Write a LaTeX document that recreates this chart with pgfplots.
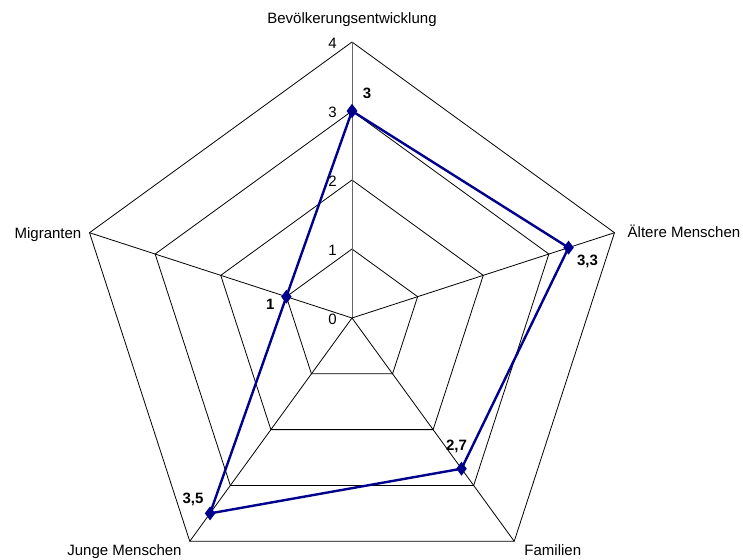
\documentclass[border=0pt]{standalone}
\usepackage{fontspec}
\setmainfont{Liberation Sans}
\usepackage{pgfplots}
\pgfplotsset{compat=1.18}
\usepgfplotslibrary{polar}

\definecolor{serie}{RGB}{0,0,140}

\begin{document}
\begin{tikzpicture}[
    every node/.style={font=\fontsize{15}{18}\selectfont, inner sep=0pt},
    val/.style={font=\fontsize{15}{18}\selectfont\bfseries},
  ]
  \begin{polaraxis}[
      scale only axis, width=552pt, height=552pt,
      xmin=0, xmax=360, ymin=0, ymax=4,
      hide axis, clip=false,
    ]
    \coordinate (c) at (axis cs:0,0);
    % grid: pentagons for 1..4 and the five spokes
    \addplot[black, line width=0.8pt, no marks] coordinates {(90,1)(18,1)(306,1)(234,1)(162,1)(90,1)};
    \addplot[black, line width=0.8pt, no marks] coordinates {(90,2)(18,2)(306,2)(234,2)(162,2)(90,2)};
    \addplot[black, line width=0.8pt, no marks] coordinates {(90,3)(18,3)(306,3)(234,3)(162,3)(90,3)};
    \addplot[black, line width=0.8pt, no marks] coordinates {(90,4)(18,4)(306,4)(234,4)(162,4)(90,4)};
    \addplot[black!60, line width=0.9pt, no marks] coordinates {(90,0)(90,4)};
    \addplot[black, line width=0.8pt, no marks] coordinates {(18,0)(18,4)};
    \addplot[black, line width=0.8pt, no marks] coordinates {(306,0)(306,4)};
    \addplot[black, line width=0.8pt, no marks] coordinates {(234,0)(234,4)};
    \addplot[black, line width=0.8pt, no marks] coordinates {(162,0)(162,4)};
    % data
    \addplot[serie, line width=2.4pt, mark=diamond*, mark size=5pt] coordinates {
      (90,3) (18,3.3) (306,2.7) (234,3.5) (162,1) (90,3)
    };
    % radial tick labels
    \node[anchor=east, xshift=-15pt, yshift=-1pt] at (axis cs:90,0) {0};
    \node[anchor=east, xshift=-15pt, yshift=-1pt] at (axis cs:90,1) {1};
    \node[anchor=east, xshift=-15pt, yshift=-1pt] at (axis cs:90,2) {2};
    \node[anchor=east, xshift=-15pt, yshift=-1pt] at (axis cs:90,3) {3};
    \node[anchor=east, xshift=-15pt, yshift=-1pt] at (axis cs:90,4) {4};
    % category labels
    \node[anchor=center, yshift=22pt] at (axis cs:90,4) {Bevölkerungsentwicklung};
    \node[anchor=west, xshift=13pt, yshift=1pt] at (axis cs:18,4) {Ältere Menschen};
    \node[anchor=west, xshift=10pt, yshift=-9pt] at (axis cs:306,4) {Familien};
    \node[anchor=east, xshift=-8pt, yshift=-10pt] at (axis cs:234,4) {Junge Menschen};
    \node[anchor=east, xshift=-8pt, yshift=-2pt] at (axis cs:162,4) {Migranten};
    % value labels
    \node[val, xshift=15pt, yshift=18pt] at (axis cs:90,3) {3};
    \node[val, xshift=19pt, yshift=-14pt] at (axis cs:18,3.3) {3,3};
    \node[val, xshift=-5pt, yshift=22pt] at (axis cs:306,2.7) {2,7};
    \node[val, xshift=-17pt, yshift=14pt] at (axis cs:234,3.5) {3,5};
    \node[val, xshift=-16pt, yshift=-8pt] at (axis cs:162,1) {1};
  \end{polaraxis}
  \pgfresetboundingbox
  \path[use as bounding box] ([shift={(-352pt,-241pt)}]c) rectangle ([shift={(391pt,318pt)}]c);
\end{tikzpicture}
\end{document}
